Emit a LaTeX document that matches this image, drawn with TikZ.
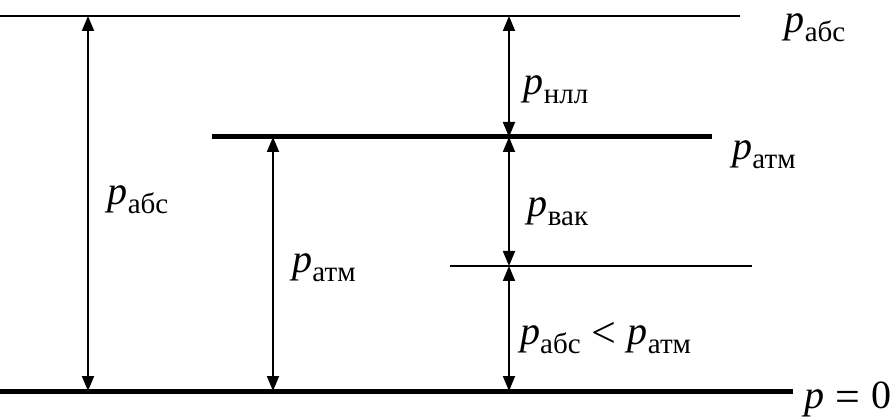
\documentclass[tikz,border=0pt]{standalone}
\usepackage{fontspec}
\setmainfont{Liberation Serif}
\usetikzlibrary{arrows.meta}
% italic p with an upright Cyrillic subscript
\newcommand{\pvar}[1]{\textit{p}\raisebox{-9pt}{\fontsize{29}{32}\selectfont #1}}
% relation signs, set from the text font at the label size
\newcommand{\relsign}[1]{\hspace{0.28em}\raisebox{-3pt}{\fontsize{44}{44}\selectfont #1}\hspace{0.28em}}
\tikzset{
  thinlevel/.style={line width=1.5pt},
  thicklevel/.style={line width=5pt},
  dimarrow/.style={line width=1.8pt, {Triangle[length=15pt,width=12pt]}-{Triangle[length=15pt,width=12pt]}},
  lbl/.style={inner sep=0pt, font=\fontsize{40}{46}\selectfont},
}
\begin{document}
\begin{tikzpicture}[x=1pt,y=-1pt]
  \useasboundingbox (0,0) rectangle (896,419);
  % pressure levels
  \coordinate (absL) at (0,16);    \coordinate (absR) at (740,16);
  \coordinate (atmL) at (212,137); \coordinate (atmR) at (712,137);
  \coordinate (vacL) at (450,266); \coordinate (vacR) at (752,266);
  \coordinate (zeroL) at (0,391);  \coordinate (zeroR) at (793,391);
  \draw[thinlevel] (absL) -- (absR);
  \draw[thicklevel] (atmL) -- (atmR);
  \draw[thinlevel] (vacL) -- (vacR);
  \draw[thicklevel] (zeroL) -- (zeroR);
  % arrow end points
  \coordinate (a1t) at (88,16);   \coordinate (a1b) at (88,391);
  \coordinate (a2t) at (273,137); \coordinate (a2b) at (273,391);
  \coordinate (a3t) at (509,16);  \coordinate (a3m) at (509,137);
  \coordinate (a3v) at (509,266); \coordinate (a3b) at (509,391);
  \draw[dimarrow] (a1t) -- (a1b);
  \draw[dimarrow] (a2t) -- (a2b);
  \draw[dimarrow] (a3t) -- (a3m);
  \draw[dimarrow] (a3m) -- (a3v);
  \draw[dimarrow] (a3v) -- (a3b);
  % labels
  \node[lbl] (labs) at (815,28) {\pvar{абс}};
  \node[lbl] (latm) at (764,155) {\pvar{атм}};
  \node[lbl, anchor=east] (lzero) at (892,399) {\textit{p}\relsign{=}0};
  \node[lbl] (lnll) at (556,90) {\pvar{нлл}};
  \node[lbl] (lvak) at (558,212) {\pvar{вак}};
  \node[lbl, anchor=west] (lless) at (520,338) {\pvar{абс}\relsign{<}\pvar{атм}};
  \node[lbl] (lleft) at (138,200) {\pvar{абс}};
  \node[lbl] (lmid) at (324,268) {\pvar{атм}};
\end{tikzpicture}
\end{document}
